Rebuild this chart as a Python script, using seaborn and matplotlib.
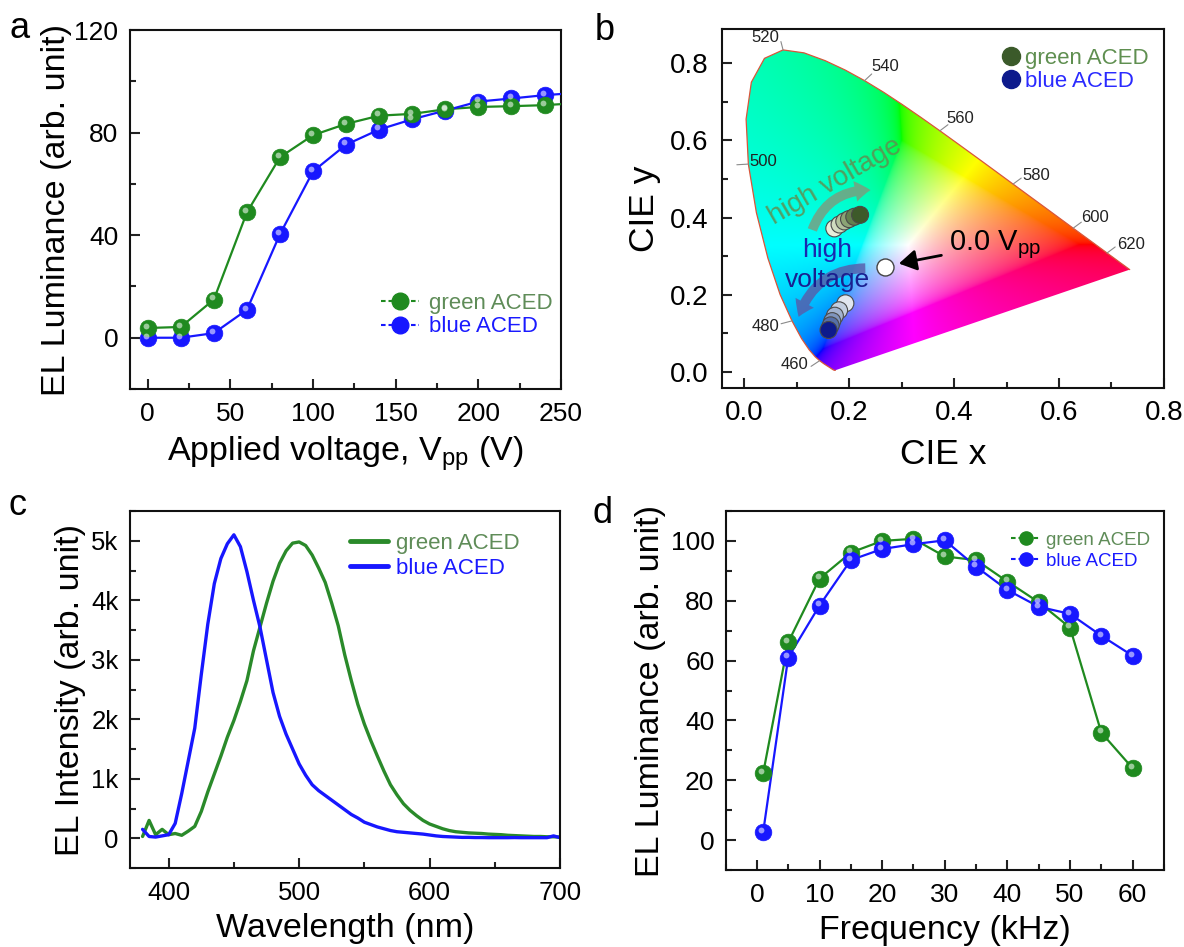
import numpy as np
import pandas as pd
import seaborn as sns
import matplotlib
matplotlib.use("Agg")
import matplotlib.pyplot as plt
from matplotlib import transforms
from matplotlib.path import Path
from matplotlib.patches import PathPatch, FancyArrowPatch
from matplotlib.lines import Line2D
from matplotlib.ticker import MultipleLocator, FuncFormatter

# ---------------- data ----------------
# (a) luminance vs applied voltage
volt = [0, 20, 40, 60, 80, 100, 120, 140, 160, 180, 200, 220, 240, 260]
lum_green_v = [3.8, 4.2, 14.9, 48.9, 70.4, 79.0, 83.4, 86.6, 87.3, 89.1, 90.0, 90.3, 90.7, 91.5]
lum_blue_v = [0.0, 0.0, 1.8, 10.9, 40.4, 64.9, 75.3, 81.2, 85.2, 88.6, 92.1, 93.3, 94.6, 95.5]

# (b) CIE 1931 spectral locus (x, y) 380-700 nm, 5 nm step
locus_nm = list(range(380, 705, 5))
locus_x = [0.1741, 0.1740, 0.1738, 0.1736, 0.1733, 0.1730, 0.1726, 0.1721, 0.1714, 0.1703,
           0.1689, 0.1669, 0.1644, 0.1611, 0.1566, 0.1510, 0.1440, 0.1355, 0.1241, 0.1096,
           0.0913, 0.0687, 0.0454, 0.0235, 0.0082, 0.0039, 0.0139, 0.0389, 0.0743, 0.1142,
           0.1547, 0.1929, 0.2296, 0.2658, 0.3016, 0.3373, 0.3731, 0.4087, 0.4441, 0.4788,
           0.5125, 0.5448, 0.5752, 0.6029, 0.6270, 0.6482, 0.6658, 0.6801, 0.6915, 0.7006,
           0.7079, 0.7140, 0.7190, 0.7230, 0.7260, 0.7283, 0.7300, 0.7311, 0.7320, 0.7327,
           0.7334, 0.7340, 0.7344, 0.7346, 0.7347]
locus_y = [0.0050, 0.0050, 0.0049, 0.0049, 0.0048, 0.0048, 0.0048, 0.0048, 0.0051, 0.0058,
           0.0069, 0.0086, 0.0109, 0.0138, 0.0177, 0.0227, 0.0297, 0.0399, 0.0578, 0.0868,
           0.1327, 0.2007, 0.2950, 0.4127, 0.5384, 0.6548, 0.7502, 0.8120, 0.8338, 0.8262,
           0.8059, 0.7816, 0.7543, 0.7243, 0.6923, 0.6589, 0.6245, 0.5896, 0.5547, 0.5202,
           0.4866, 0.4544, 0.4242, 0.3965, 0.3725, 0.3514, 0.3340, 0.3197, 0.3083, 0.2993,
           0.2920, 0.2859, 0.2809, 0.2770, 0.2740, 0.2717, 0.2700, 0.2689, 0.2680, 0.2673,
           0.2666, 0.2660, 0.2656, 0.2654, 0.2653]
wl_labels = [460, 480, 500, 520, 540, 560, 580, 600, 620]
wl_label_offsets = [(-18, -3), (-19, -4), (11, 2), (-13, 9), (15, 10), (15, 9), (17, 6.5), (16, 7.5), (17, 6)]

cie_green_x = [0.172, 0.182, 0.191, 0.200, 0.210, 0.221]
cie_green_y = [0.372, 0.382, 0.390, 0.396, 0.402, 0.407]
cie_green_col = ['#e8eedb', '#cfdbbf', '#b0c19c', '#8ba475', '#63804e', '#3d5a2a']
cie_blue_x = [0.193, 0.181, 0.173, 0.168, 0.165, 0.161]
cie_blue_y = [0.178, 0.160, 0.146, 0.132, 0.121, 0.109]
cie_blue_col = ['#e1e6ef', '#c3cee0', '#a2b3cf', '#7f95bd', '#5670a8', '#0d1a8c']
cie_zero = (0.269, 0.272)

# (c) EL spectra
wl = list(range(380, 705, 5))
spec_blue = [150, 30, 20, 40, 60, 250, 750, 1300, 1850, 2750,
             3600, 4280, 4700, 4950, 5100, 4900, 4480, 4000, 3550, 3000,
             2450, 2050, 1750, 1500, 1250, 1060, 900, 800, 720, 640,
             560, 480, 400, 340, 270, 230, 190, 160, 130, 110,
             100, 90, 80, 70, 55, 40, 30, 25, 20, 15,
             15, 12, 12, 10, 10, 10, 10, 12, 10, 10,
             10, 10, 10, 40, 10]
spec_green = [30, 300, 60, 150, 60, 80, 50, 120, 200, 450,
              780, 1080, 1380, 1700, 1980, 2300, 2650, 3150, 3550, 3950,
              4320, 4620, 4830, 4960, 4980, 4920, 4760, 4540, 4300, 3950,
              3570, 3080, 2650, 2250, 1920, 1640, 1380, 1130, 900, 730,
              580, 470, 380, 300, 240, 200, 160, 130, 110, 100,
              90, 85, 80, 70, 65, 60, 50, 45, 40, 35,
              30, 30, 25, 25, 20]

# (d) luminance vs frequency
freq = [1, 5, 10, 15, 20, 25, 30, 35, 40, 45, 50, 55, 60]
lum_green_f = [22.3, 66.1, 87.4, 96.1, 100.0, 100.7, 94.8, 93.6, 86.4, 79.5, 71.0, 35.9, 24.0]
lum_blue_f = [2.6, 61.0, 78.4, 93.6, 97.3, 98.9, 100.2, 91.4, 83.6, 78.0, 75.6, 68.3, 61.6]

# ---------------- style ----------------
sns.set_theme(style="ticks")
plt.rcParams['font.family'] = ['Liberation Sans', 'DejaVu Sans']
plt.rcParams['mathtext.fontset'] = 'custom'
plt.rcParams['mathtext.rm'] = 'Liberation Sans'
for key in ['text.color', 'axes.labelcolor', 'xtick.color', 'ytick.color', 'xtick.labelcolor', 'ytick.labelcolor']:
    plt.rcParams[key] = 'black'
plt.rcParams['axes.linewidth'] = 1.5

GREEN = '#1f8a1f'
BLUE = '#1717ff'
GREEN_TXT = '#5f8c58'
BLUE_TXT = '#1a1aff'
LABEL_FS = 24.5

fig = plt.figure(figsize=(11.84, 9.47), dpi=100)
ax_a = fig.add_axes([0.1094, 0.5892, 0.3645, 0.3791])
ax_b = fig.add_axes([0.6098, 0.5903, 0.3733, 0.3791])
ax_c = fig.add_axes([0.1094, 0.0834, 0.3636, 0.3770])
ax_d = fig.add_axes([0.6128, 0.0813, 0.3703, 0.3791])


def style_axes(ax, tick_size, xpad=9, ypad=8):
    ax.tick_params(which='both', direction='in', top=False, right=False, width=1.5,
                   labelsize=tick_size, color='#222222')
    ax.tick_params(which='major', length=7)
    ax.tick_params(which='minor', length=4)
    ax.tick_params(axis='x', which='major', pad=xpad)
    ax.tick_params(axis='y', which='major', pad=ypad)
    for s in ax.spines.values():
        s.set_color('#111111')
        s.set_linewidth(1.5)
        s.set_visible(True)


def balls(ax, x, y, color, size=12):
    """Line-and-sphere markers: base disk plus a small offset highlight."""
    sns.scatterplot(x=x, y=y, ax=ax, color=color, s=size ** 2, edgecolor=color,
                    linewidth=0.5, zorder=4, legend=False, clip_on=False)
    hl = transforms.offset_copy(ax.transData, fig=fig, x=-1.3, y=1.6, units='points')
    ax.scatter(x, y, s=(size * 0.35) ** 2, color='white', alpha=0.55, lw=0,
               transform=hl, zorder=5)


def ball_handle(color, ms=12):
    return Line2D([0], [0], color=color, lw=1.5, ls=(0, (2.2, 1.4)), marker='o',
                  markersize=ms, markerfacecolor=color, markeredgecolor=color)


# ---------------- (a) ----------------
sns.lineplot(x=volt, y=lum_green_v, ax=ax_a, color=GREEN, lw=1.6, sort=False, estimator=None, zorder=3)
sns.lineplot(x=volt, y=lum_blue_v, ax=ax_a, color=BLUE, lw=1.6, sort=False, estimator=None, zorder=3)
for xs, ys, c in [(volt, lum_blue_v, BLUE), (volt, lum_green_v, GREEN)]:
    vis = [i for i, v in enumerate(xs) if v <= 250]
    balls(ax_a, [xs[i] for i in vis], [ys[i] for i in vis], c)
ax_a.set_xlim(-11, 250)
ax_a.set_ylim(-20, 120)
ax_a.xaxis.set_major_locator(MultipleLocator(50))
ax_a.xaxis.set_minor_locator(MultipleLocator(25))
ax_a.yaxis.set_major_locator(MultipleLocator(40))
ax_a.yaxis.set_minor_locator(MultipleLocator(20))
style_axes(ax_a, 19)
ax_a.set_xlabel('Applied voltage, V$_{\\mathregular{pp}}$ (V)', fontsize=LABEL_FS, labelpad=6)
ax_a.set_ylabel('EL Luminance (arb. unit)', fontsize=LABEL_FS, labelpad=2)
ax_a.legend([ball_handle(GREEN), ball_handle(BLUE)], ['green ACED', 'blue ACED'],
            loc='center left', bbox_to_anchor=(0.583, 0.206), frameon=False, fontsize=16,
            labelcolor=[GREEN_TXT, BLUE_TXT], handlelength=1.7, handletextpad=0.45,
            labelspacing=0.12, borderpad=0.0, borderaxespad=0.0)

# ---------------- (b) ----------------
lx = np.array(locus_x)
ly = np.array(locus_y)
xx, yy = np.meshgrid(np.linspace(0.0, 0.75, 520), np.linspace(0.001, 0.85, 520))
X = xx / yy
Y = np.ones_like(xx)
Z = (1 - xx - yy) / yy
M = np.array([[3.2406, -1.5372, -0.4986], [-0.9689, 1.8758, 0.0415], [0.0557, -0.2040, 1.0570]])
rgb = np.tensordot(np.stack([X, Y, Z], axis=-1), M.T, axes=1)
rgb = rgb - np.minimum(rgb.min(axis=-1, keepdims=True), 0)   # desaturate out-of-gamut colours
rgb = rgb / rgb.max(axis=-1, keepdims=True)
rgb = np.where(rgb <= 0.0031308, 12.92 * rgb, 1.055 * np.clip(rgb, 0, None) ** (1 / 2.4) - 0.055)
rgb = np.clip(rgb, 0, 1)
img = ax_b.imshow(rgb, origin='lower', extent=(0.0, 0.75, 0.001, 0.85), aspect='auto',
                  interpolation='bilinear', zorder=1)
poly = np.column_stack([np.append(lx, lx[0]), np.append(ly, ly[0])])
clip = PathPatch(Path(poly), transform=ax_b.transData, facecolor='none', edgecolor='none')
ax_b.add_patch(clip)
img.set_clip_path(clip)
sns.lineplot(x=lx, y=ly, ax=ax_b, color='#d9553a', lw=0.9, sort=False, estimator=None, zorder=2)

# wavelength ticks and labels
for nm, off in zip(wl_labels, wl_label_offsets):
    i = locus_nm.index(nm)
    tx = lx[i + 1] - lx[i - 1]
    ty = ly[i + 1] - ly[i - 1]
    n = np.array([-ty, tx]) / np.hypot(tx, ty)
    ax_b.plot([lx[i], lx[i] + 0.022 * n[0]], [ly[i], ly[i] + 0.022 * n[1]],
              color='#8a8a8a', lw=0.8, zorder=2)
    ax_b.annotate(str(nm), (lx[i], ly[i]), xytext=off, textcoords='offset points',
                  ha='center', va='center', fontsize=12, color='#222222', zorder=6)

# curved "high voltage" arrows
ax_b.add_patch(FancyArrowPatch((0.13, 0.368), (0.241, 0.471), connectionstyle='arc3,rad=-0.35',
                               arrowstyle='simple,head_width=15,head_length=11,tail_width=7',
                               color='#7f9a7c', alpha=0.8, lw=0, zorder=3,
                               shrinkA=0, shrinkB=0))
ax_b.add_patch(FancyArrowPatch((0.231, 0.269), (0.104, 0.143), connectionstyle='arc3,rad=0.35',
                               arrowstyle='simple,head_width=15,head_length=11,tail_width=7',
                               color='#5a5aa8', alpha=0.8, lw=0, zorder=3,
                               shrinkA=0, shrinkB=0))

sns.scatterplot(x=cie_green_x, y=cie_green_y, hue=list(range(6)), palette=cie_green_col,
                ax=ax_b, s=150, edgecolor='#4a4a4a', linewidth=0.8, legend=False, zorder=5)
sns.scatterplot(x=cie_blue_x, y=cie_blue_y, hue=list(range(6)), palette=cie_blue_col,
                ax=ax_b, s=150, edgecolor='#4a4a4a', linewidth=0.8, legend=False, zorder=5)
ax_b.scatter([cie_zero[0]], [cie_zero[1]], s=150, color='white', edgecolor='#444444',
             linewidth=1.0, zorder=5)

ax_b.text(0.174, 0.493, 'high voltage', rotation=30, fontsize=20, color='#5f8f50', alpha=0.85,
          ha='center', va='center', zorder=6)
ax_b.text(0.158, 0.316, 'high', fontsize=19, color='#1a28b0', ha='center', va='center', zorder=6)
ax_b.text(0.158, 0.238, 'voltage', fontsize=19, color='#1a1f90', ha='center', va='center', zorder=6)
ax_b.annotate('0.0 V$_{\\mathregular{pp}}$', xy=(0.295, 0.281), xytext=(0.39, 0.329),
              fontsize=21, color='black', ha='left', va='center', zorder=6,
              arrowprops=dict(arrowstyle='-|>,head_width=0.3,head_length=0.5', color='black',
                              lw=2, shrinkA=3, shrinkB=0))

ax_b.set_xlim(-0.042, 0.8)
ax_b.set_ylim(-0.041, 0.888)
ax_b.xaxis.set_major_locator(MultipleLocator(0.2))
ax_b.xaxis.set_minor_locator(MultipleLocator(0.1))
ax_b.yaxis.set_major_locator(MultipleLocator(0.2))
ax_b.yaxis.set_minor_locator(MultipleLocator(0.1))
ax_b.xaxis.set_major_formatter(FuncFormatter(lambda v, p: f'{v:.1f}'))
ax_b.yaxis.set_major_formatter(FuncFormatter(lambda v, p: f'{v:.1f}'))
style_axes(ax_b, 20, xpad=9, ypad=10)
ax_b.set_xlabel('CIE x', fontsize=LABEL_FS + 1, labelpad=8)
ax_b.set_ylabel('CIE y', fontsize=LABEL_FS + 1, labelpad=6)
hb = [Line2D([0], [0], ls='none', marker='o', markersize=13, markerfacecolor=c, markeredgecolor=c)
      for c in ['#3b5a2a', '#0d1a8c']]
ax_b.legend(hb, ['green ACED', 'blue ACED'], loc='center left', frameon=False, fontsize=16,
            labelcolor=['#5f8f50', '#2a2aff'], handlelength=0.8, handletextpad=0.26,
            labelspacing=0.12, borderpad=0.0, borderaxespad=0.0, bbox_to_anchor=(0.633, 0.886))

# ---------------- (c) ----------------
sns.lineplot(x=wl, y=spec_green, ax=ax_c, color='#2a8a2a', lw=2.4, sort=False, estimator=None)
sns.lineplot(x=wl, y=spec_blue, ax=ax_c, color=BLUE, lw=2.4, sort=False, estimator=None)
ax_c.set_xlim(370, 700)
ax_c.set_ylim(-500, 5500)
ax_c.xaxis.set_major_locator(MultipleLocator(100))
ax_c.xaxis.set_minor_locator(MultipleLocator(50))
ax_c.yaxis.set_major_locator(MultipleLocator(1000))
ax_c.yaxis.set_minor_locator(MultipleLocator(500))
ax_c.yaxis.set_major_formatter(FuncFormatter(lambda v, p: '0' if v == 0 else f'{int(v / 1000)}k'))
style_axes(ax_c, 18.5)
ax_c.set_xlabel('Wavelength (nm)', fontsize=LABEL_FS, labelpad=6)
ax_c.set_ylabel('EL Intensity (arb. unit)', fontsize=LABEL_FS, labelpad=4)
ax_c.legend([Line2D([0], [0], color='#2a8a2a', lw=3.5), Line2D([0], [0], color=BLUE, lw=3.5)],
            ['green ACED', 'blue ACED'], loc='center left', frameon=False, fontsize=16,
            labelcolor=[GREEN_TXT, BLUE_TXT], handlelength=1.7, handletextpad=0.37,
            labelspacing=0.2, borderpad=0.0, borderaxespad=0.0, bbox_to_anchor=(0.512, 0.874))

# ---------------- (d) ----------------
sns.lineplot(x=freq, y=lum_green_f, ax=ax_d, color=GREEN, lw=1.6, sort=False, estimator=None, zorder=3)
sns.lineplot(x=freq, y=lum_blue_f, ax=ax_d, color=BLUE, lw=1.6, sort=False, estimator=None, zorder=3)
balls(ax_d, freq, lum_green_f, GREEN)
balls(ax_d, freq, lum_blue_f, BLUE)
ax_d.set_xlim(-5, 65)
ax_d.set_ylim(-10, 110)
ax_d.xaxis.set_major_locator(MultipleLocator(10))
ax_d.xaxis.set_minor_locator(MultipleLocator(5))
ax_d.yaxis.set_major_locator(MultipleLocator(20))
ax_d.yaxis.set_minor_locator(MultipleLocator(10))
style_axes(ax_d, 19)
ax_d.set_xlabel('Frequency (kHz)', fontsize=LABEL_FS, labelpad=6)
ax_d.set_ylabel('EL Luminance (arb. unit)', fontsize=LABEL_FS, labelpad=3)
ax_d.legend([ball_handle(GREEN, 9.5), ball_handle(BLUE, 9.5)], ['green ACED', 'blue ACED'],
            loc='center left', frameon=False, fontsize=13.5, labelcolor=[GREEN_TXT, BLUE_TXT],
            handlelength=1.57, handletextpad=0.32, labelspacing=0.2, borderpad=0.0,
            borderaxespad=0.0, bbox_to_anchor=(0.651, 0.889))

# panel letters
for lbl, px, py in [('a', 0.008, 0.9599), ('b', 0.502, 0.9578), ('c', 0.007, 0.4562), ('d', 0.500, 0.4477)]:
    fig.text(px, py, lbl, fontsize=26, va='baseline', ha='left')

fig.savefig('out.png', dpi=100, facecolor='white')
